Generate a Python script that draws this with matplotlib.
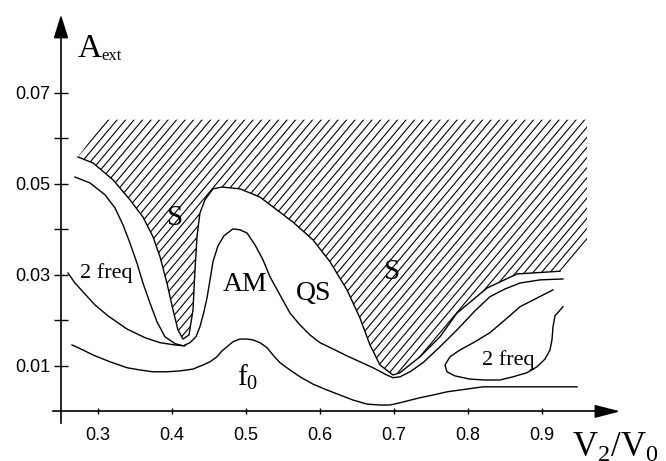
import numpy as np
import matplotlib.pyplot as plt
from matplotlib.collections import LineCollection
from matplotlib.patches import Polygon

# edge of the stable region S (lower boundary of the hatched area)
s_edge_x = [0.2730, 0.2932, 0.3203, 0.3432, 0.3608, 0.3743, 0.3838, 0.3932, 0.4014, 0.4081,
            0.4149, 0.4230, 0.4284, 0.4311, 0.4338, 0.4378, 0.4446, 0.4554, 0.4676, 0.4919,
            0.5189, 0.5635, 0.5905, 0.6135, 0.6365, 0.6541, 0.6676, 0.6811, 0.6986, 0.7081,
            0.7351, 0.7622, 0.7851, 0.8257, 0.8662, 0.9243]
s_edge_y = [0.0559, 0.0546, 0.0509, 0.0465, 0.0427, 0.0384, 0.0340, 0.0282, 0.0223, 0.0179,
            0.0159, 0.0168, 0.0223, 0.0311, 0.0384, 0.0436, 0.0465, 0.0489, 0.0493, 0.0489,
            0.0471, 0.0416, 0.0377, 0.0329, 0.0267, 0.0205, 0.0146, 0.0102, 0.0080, 0.0085,
            0.0120, 0.0164, 0.0216, 0.0271, 0.0302, 0.0308]

# boundary around the AM / QS regions
am_edge_x = [0.2689, 0.2892, 0.3095, 0.3230, 0.3338, 0.3432, 0.3527, 0.3608, 0.3703, 0.3797,
             0.3905, 0.4041, 0.4149, 0.4243, 0.4324, 0.4378, 0.4432, 0.4473, 0.4514, 0.4554,
             0.4622, 0.4703, 0.4824, 0.4919, 0.5014, 0.5122, 0.5230, 0.5324, 0.5459, 0.5595,
             0.5730, 0.5865, 0.6000, 0.6203, 0.6365, 0.6541, 0.6716, 0.6878, 0.6986, 0.7081,
             0.7216, 0.7392, 0.7622, 0.7851, 0.8095, 0.8297, 0.8500, 0.8703, 0.8973, 0.9284]
am_edge_y = [0.0515, 0.0502, 0.0476, 0.0447, 0.0410, 0.0370, 0.0326, 0.0282, 0.0238, 0.0197,
             0.0164, 0.0149, 0.0144, 0.0151, 0.0164, 0.0186, 0.0219, 0.0249, 0.0289, 0.0329,
             0.0364, 0.0386, 0.0401, 0.0399, 0.0392, 0.0366, 0.0333, 0.0296, 0.0256, 0.0216,
             0.0190, 0.0168, 0.0151, 0.0135, 0.0122, 0.0109, 0.0096, 0.0082, 0.0074, 0.0076,
             0.0087, 0.0107, 0.0142, 0.0179, 0.0221, 0.0252, 0.0269, 0.0282, 0.0289, 0.0291]

# lower edge of the left two-frequency zone
twofreq_left_x = [0.2595, 0.2689, 0.2824, 0.2959, 0.3135, 0.3392, 0.3635, 0.3838, 0.4041, 0.4176]
twofreq_left_y = [0.0304, 0.0282, 0.0258, 0.0234, 0.0210, 0.0181, 0.0162, 0.0151, 0.0146, 0.0144]

# closed-ish loop of the right two-frequency zone
twofreq_right_x = [0.9149, 0.8932, 0.8703, 0.8500, 0.8297, 0.8095, 0.7892, 0.7757, 0.7689, 0.7716,
                   0.7824, 0.8027, 0.8230, 0.8432, 0.8608, 0.8797, 0.8932, 0.9041, 0.9108, 0.9135,
                   0.9149, 0.9176, 0.9284]
twofreq_right_y = [0.0267, 0.0249, 0.0230, 0.0201, 0.0173, 0.0153, 0.0135, 0.0120, 0.0102, 0.0087,
                   0.0078, 0.0071, 0.0069, 0.0069, 0.0076, 0.0085, 0.0098, 0.0115, 0.0135, 0.0157,
                   0.0186, 0.0210, 0.0230]

# threshold of the f0 regime
f0_x = [0.2649, 0.2797, 0.2932, 0.3162, 0.3392, 0.3568, 0.3743, 0.3932, 0.4108, 0.4284,
        0.4419, 0.4514, 0.4608, 0.4676, 0.4743, 0.4824, 0.4919, 0.5014, 0.5095, 0.5189,
        0.5284, 0.5365, 0.5459, 0.5595, 0.5730, 0.5905, 0.6095, 0.6270, 0.6446, 0.6635,
        0.6811, 0.6946, 0.7081, 0.7351, 0.7527, 0.7716, 0.7892, 0.8203, 0.8432, 0.8973, 0.9473]
f0_y = [0.0146, 0.0135, 0.0124, 0.0109, 0.0096, 0.0091, 0.0087, 0.0087, 0.0089, 0.0093,
        0.0102, 0.0109, 0.0120, 0.0133, 0.0142, 0.0153, 0.0159, 0.0159, 0.0157, 0.0151,
        0.0140, 0.0124, 0.0107, 0.0091, 0.0076, 0.0060, 0.0047, 0.0036, 0.0025, 0.0016,
        0.0014, 0.0014, 0.0019, 0.0030, 0.0036, 0.0043, 0.0047, 0.0054, 0.0054, 0.0054, 0.0054]

# outer limits of the hatched region
hatch_top = 0.0641
hatch_left = 0.3095
hatch_right = 0.9608
hatch_right_low = 0.0366

x_ticks = [0.3, 0.4, 0.5, 0.6, 0.7, 0.8, 0.9]
x_tick_labels = ['0.3', '0.4', '0.5', '0.6', '0.7', '0.8', '0.9']
y_ticks = [0.01, 0.02, 0.03, 0.04, 0.05, 0.06, 0.07]
y_tick_labels = ['0.01', '', '0.03', '', '0.05', '', '0.07']

serif = ['Liberation Serif', 'DejaVu Serif']
plt.rcParams['mathtext.fontset'] = 'custom'
plt.rcParams['mathtext.rm'] = 'Liberation Serif'

fig = plt.figure(figsize=(6.66, 4.61), dpi=100)
ax = fig.add_axes([0, 0, 1, 1])
ax.set_xlim(0.1676, 1.0676)
ax.set_ylim(-0.0109, 0.0904)

# hatched region S
region = list(zip(s_edge_x, s_edge_y)) + [(hatch_right, hatch_right_low),
                                          (hatch_right, hatch_top),
                                          (hatch_left, hatch_top)]
poly = Polygon(region, closed=True, facecolor='none', edgecolor='none')
ax.add_patch(poly)
slope = (4550 / 740) / np.tan(np.radians(50))
segs = [[(x0, 0.0), (x0 + slope * 0.07, 0.07)] for x0 in np.arange(-0.2, 1.0, 8.5 / 740)]
hatch = LineCollection(segs, colors='black', linewidths=0.8)
ax.add_collection(hatch)
hatch.set_clip_path(poly)

line_kw = dict(color='black', lw=1.0)
ax.plot(s_edge_x, s_edge_y, **line_kw)
ax.plot(am_edge_x, am_edge_y, **line_kw)
ax.plot(twofreq_left_x, twofreq_left_y, **line_kw)
ax.plot(twofreq_right_x, twofreq_right_y, **line_kw)
ax.plot(f0_x, f0_y, **line_kw)

# region labels
ax.text(0.4041, 0.0425, 'S', family=serif, fontsize=21, ha='center', va='center')
ax.text(0.6973, 0.0307, 'S', family=serif, fontsize=21, ha='center', va='center')
ax.text(0.4986, 0.0278, 'AM', family=serif, fontsize=20, ha='center', va='center')
ax.text(0.5919, 0.0260, 'QS', family=serif, fontsize=20, ha='center', va='center')
ax.text(0.3108, 0.0304, '2 freq', family=serif, fontsize=16, ha='center', va='center')
ax.text(0.8541, 0.0113, '2 freq', family=serif, fontsize=16, ha='center', va='center')
ax.text(0.5027, 0.0074, r'$\mathregular{f_0}$', family=serif, fontsize=21, ha='center', va='center')

# axes through the origin with arrow heads
for side in ['top', 'right']:
    ax.spines[side].set_visible(False)
ax.spines['left'].set_position(('data', 0.25))
ax.spines['bottom'].set_position(('data', 0.0))
ax.spines['left'].set_bounds(-0.0025, 0.084)
ax.spines['bottom'].set_bounds(0.239, 1.0)
ax.spines['left'].set_linewidth(1.2)
ax.spines['bottom'].set_linewidth(1.2)
ax.annotate('', xy=(0.25, 0.0878), xytext=(0.25, 0.082),
            arrowprops=dict(arrowstyle='-|>,head_length=1.45,head_width=0.45',
                            mutation_scale=10, color='black', lw=1.2))
ax.annotate('', xy=(1.0095, 0.0), xytext=(0.99, 0.0),
            arrowprops=dict(arrowstyle='-|>,head_length=1.55,head_width=0.4',
                            mutation_scale=10, color='black', lw=1.2))

tick_font = ['Liberation Sans Narrow', 'Liberation Sans']
ax.set_xticks(x_ticks, labels=x_tick_labels)
ax.set_yticks(y_ticks, labels=y_tick_labels)
ax.tick_params(axis='x', direction='inout', length=5, width=1, pad=9, labelsize=13)
ax.tick_params(axis='y', direction='inout', length=9.5, width=1, pad=3, labelsize=13)
for lab in ax.get_xticklabels() + ax.get_yticklabels():
    lab.set_family(tick_font)

# axis titles
ax.text(0.2730, 0.0779, 'A', family=serif, fontsize=24, ha='left', va='baseline')
ax.text(0.3050, 0.0773, 'ext', family=serif, fontsize=12, ha='left', va='baseline')
ax.text(0.9400, -0.0100, r'$\mathregular{V_2/V_0}$', family=serif, fontsize=25,
        ha='left', va='baseline')

fig.savefig('out.png', dpi=100, facecolor='white')
